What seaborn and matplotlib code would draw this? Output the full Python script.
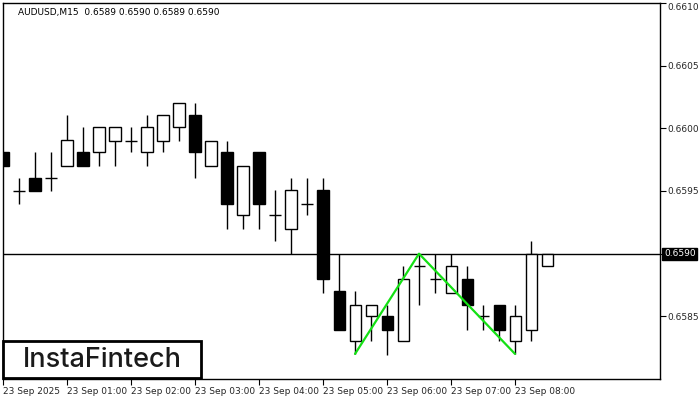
import matplotlib
matplotlib.use("Agg")
import matplotlib.pyplot as plt
import matplotlib.patches as patches
import matplotlib.transforms as mtransforms
import seaborn as sns
import pandas as pd

# AUDUSD M15 candles
opens = [0.65981, 0.65950, 0.65960, 0.65960, 0.65970, 0.65981, 0.65981, 0.65990, 0.65990, 0.65981,
         0.65990, 0.66001, 0.66011, 0.65970, 0.65981, 0.65931, 0.65981, 0.65931, 0.65920, 0.65940,
         0.65951, 0.65870, 0.65830, 0.65850, 0.65850, 0.65830, 0.65890, 0.65880, 0.65869, 0.65880,
         0.65850, 0.65859, 0.65830, 0.65839, 0.65890]
highs = [0.65981, 0.65960, 0.65981, 0.65981, 0.66011, 0.66001, 0.66001, 0.66001, 0.66001, 0.66011,
         0.66011, 0.66020, 0.66020, 0.65990, 0.65990, 0.65970, 0.65981, 0.65951, 0.65960, 0.65960,
         0.65960, 0.65900, 0.65870, 0.65859, 0.65859, 0.65890, 0.65900, 0.65900, 0.65900, 0.65890,
         0.65859, 0.65859, 0.65859, 0.65910, 0.65900]
lows = [0.65970, 0.65940, 0.65950, 0.65950, 0.65970, 0.65970, 0.65970, 0.65970, 0.65981, 0.65970,
        0.65981, 0.65990, 0.65960, 0.65970, 0.65920, 0.65920, 0.65920, 0.65910, 0.65900, 0.65931,
        0.65869, 0.65839, 0.65820, 0.65830, 0.65819, 0.65830, 0.65859, 0.65869, 0.65869, 0.65839,
        0.65839, 0.65830, 0.65820, 0.65830, 0.65890]
closes = [0.65970, 0.65950, 0.65950, 0.65960, 0.65991, 0.65970, 0.66001, 0.66001, 0.65990, 0.66001,
          0.66011, 0.66020, 0.65981, 0.65990, 0.65940, 0.65970, 0.65940, 0.65931, 0.65951, 0.65940,
          0.65880, 0.65839, 0.65859, 0.65859, 0.65839, 0.65880, 0.65890, 0.65880, 0.65890, 0.65859,
          0.65850, 0.65839, 0.65850, 0.65900, 0.65900]

# double bottom pattern
pattern_idx = [22, 26, 32]
pattern_price = [0.65820, 0.65900, 0.65820]

level = 0.6590
y_ticks = [0.6585, 0.6590, 0.6595, 0.6600, 0.6605, 0.6610]
x_tick_idx = [0, 4, 8, 12, 16, 20, 24, 28, 32]
x_tick_labels = ["23 Sep 2025", "23 Sep 01:00", "23 Sep 02:00", "23 Sep 03:00", "23 Sep 04:00",
                 "23 Sep 05:00", "23 Sep 06:00", "23 Sep 07:00", "23 Sep 08:00"]

df = pd.DataFrame({"o": opens, "h": highs, "l": lows, "c": closes})
df["i"] = range(len(df))

sns.set_style("white")
plt.rcParams["font.family"] = ["DejaVu Sans"]

fig = plt.figure(figsize=(7, 4), dpi=100)
ax = fig.add_axes([3 / 700, 21 / 400, 657 / 700, 376 / 400])

w = 0.69
for _, r in df.iterrows():
    top = max(r.o, r.c)
    bot = min(r.o, r.c)
    ax.vlines(r.i, top, r.h, color="black", lw=1, zorder=2)
    ax.vlines(r.i, r.l, bot, color="black", lw=1, zorder=2)
    if abs(r.c - r.o) < 1e-7:
        ax.hlines(r.o, r.i - w / 2, r.i + w / 2, color="black", lw=1, zorder=3)
    else:
        fc = "white" if r.c > r.o else "black"
        ax.bar(r.i, top - bot, bottom=bot, width=w, facecolor=fc,
               edgecolor="black", lw=1, zorder=3)

ax.axhline(level, color="black", lw=1, zorder=1)

sns.lineplot(x=pattern_idx, y=pattern_price, color="#14e014", lw=1.6, ax=ax, zorder=4)

ax.set_xlim(0, 41.06)
ax.set_ylim(0.65800, 0.66100)

ax.yaxis.tick_right()
ax.set_yticks(y_ticks)
# the price tag covers the 0.6590 label
ax.set_yticklabels(["" if abs(v - level) < 1e-9 else f"{v:.4f}" for v in y_ticks])
ax.set_xticks(x_tick_idx)
ax.set_xticklabels(x_tick_labels, ha="left")
ax.tick_params(axis="both", which="both", direction="out", length=4, width=0.8,
               color="black", labelsize=6.5, pad=1.5)
ax.tick_params(axis="y", right=True, left=False)
ax.tick_params(axis="x", bottom=True)
ax.get_yticklabels()[-1].set_va("top")
for s in ax.spines.values():
    s.set_color("black")
    s.set_linewidth(1)
ax.set_xlabel("")
ax.set_ylabel("")

# current price tag on the right axis
trans = mtransforms.blended_transform_factory(ax.transAxes, ax.transData)
ax.text(1.006, level, "0.6590", transform=trans, fontsize=6.5, color="white",
        va="center", ha="left", zorder=6,
        bbox=dict(facecolor="black", edgecolor="black", pad=1.2))

fig.text(18 / 700, 1 - 12 / 400, "AUDUSD,M15  0.6589 0.6590 0.6589 0.6590",
         fontsize=6.5, va="center", ha="left", color="black")

# logo
fig.patches.append(patches.Rectangle((3 / 700, 22 / 400), 198 / 700, 37 / 400,
                                     transform=fig.transFigure, facecolor="white",
                                     edgecolor="black", lw=2, zorder=10))
fig.text(102 / 700, 1 - 360 / 400, "InstaFintech", fontsize=19.5, family="Inter",
         fontweight="medium", color="#1a1a1a", ha="center", va="center", zorder=11)

fig.savefig("out.png", dpi=100)
